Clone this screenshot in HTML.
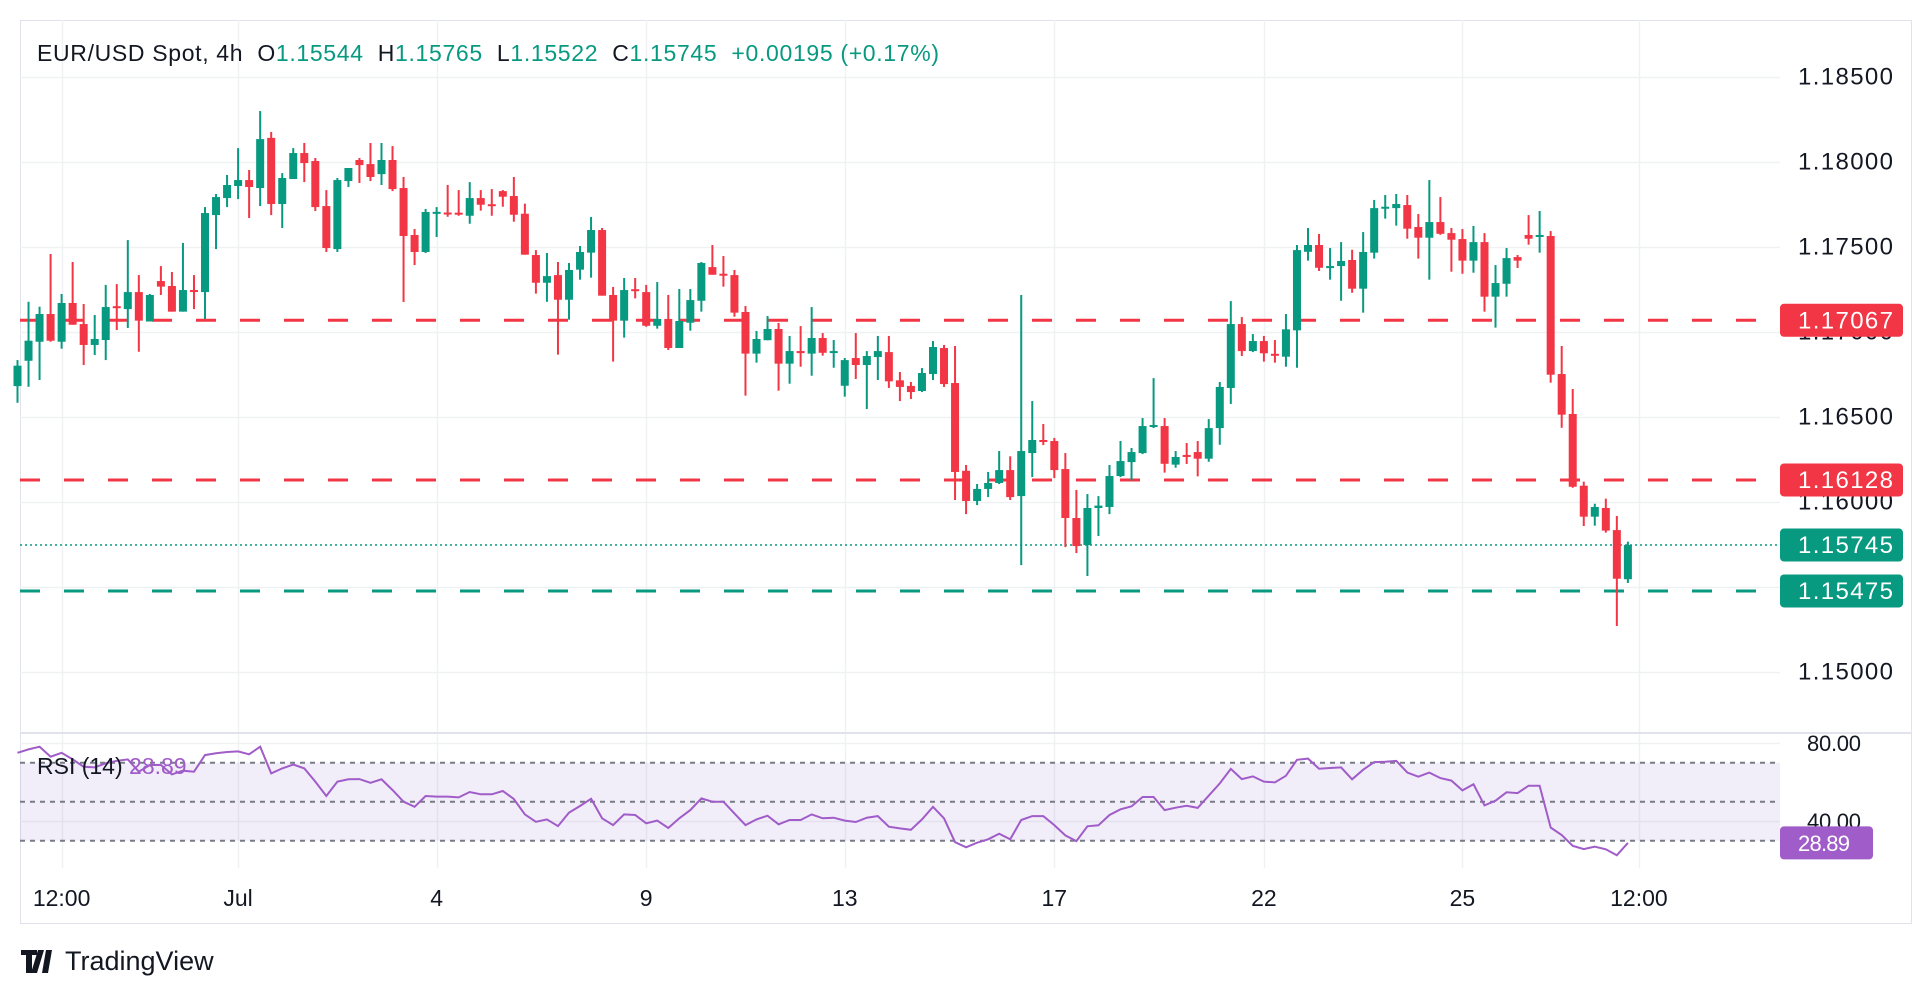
<!DOCTYPE html>
<html><head><meta charset="utf-8"><style>
html,body{margin:0;padding:0;background:#fff;}
svg{display:block;font-family:"Liberation Sans",Arial,sans-serif;}
</style></head><body>
<svg id="chart" width="1932" height="994" viewBox="0 0 1932 994" xmlns="http://www.w3.org/2000/svg">
<rect x="0" y="0" width="1932" height="994" fill="#ffffff"/>
<rect x="20.5" y="20.5" width="1891" height="903" fill="none" stroke="#e0e3eb" stroke-width="1"/>
<g id="grid"></g>
<rect id="rsiband" x="20" y="0" width="1760" height="0" fill="#7e57c2" fill-opacity="0.1"/>
<g id="rsiguides"></g>
<line x1="20" x2="1912" y1="733" y2="733" stroke="#e0e3eb" stroke-width="2"/>
<g id="levels"></g>
<g id="candles"></g>
<polyline id="rsiline" fill="none" stroke="#a05cc8" stroke-width="2" points=""/>
<g id="axis" font-size="24" fill="#131722"></g>
<g id="timeaxis" font-size="23" fill="#131722"></g>
<text x="37" y="61" font-size="23" fill="#131722" xml:space="preserve" textLength="902" lengthAdjust="spacing">EUR/USD Spot, 4h  O<tspan fill="#089981">1.15544</tspan>  H<tspan fill="#089981">1.15765</tspan>  L<tspan fill="#089981">1.15522</tspan>  C<tspan fill="#089981">1.15745  +0.00195 (+0.17%)</tspan></text>
<text x="37" y="774" font-size="23" fill="#131722" xml:space="preserve">RSI (14) <tspan fill="#a05cc8">28.89</tspan></text>
<g>
<path d="M21 950h16v5h-5v18h-6v-18h-5z M38 950h6l-7 23h-6z M46 950h6l-4 23h-6z" fill="#131722"/>
<text x="65" y="970" font-size="27" fill="#131722">TradingView</text>
</g>
</svg>
<script>
const opens=[1.1668,1.16829,1.16941,1.17104,1.16941,1.17169,1.17045,1.16922,1.16951,1.1715,1.17133,1.17233,1.1706,1.17298,1.17269,1.17118,1.17245,1.17233,1.17686,1.17786,1.17857,1.17892,1.17845,1.1814,1.17751,1.17898,1.18051,1.18004,1.17739,1.17486,1.17886,1.1801,1.17986,1.17927,1.1801,1.17845,1.17569,1.17469,1.177,1.17701,1.177,1.17682,1.17786,1.1775,1.17827,1.17798,1.17694,1.17451,1.17288,1.17333,1.17188,1.17365,1.17465,1.17598,1.17216,1.17065,1.1725,1.17233,1.17035,1.17075,1.16904,1.17053,1.17182,1.1738,1.17341,1.17333,1.17116,1.16871,1.1695,1.17016,1.16812,1.16886,1.16871,1.16963,1.16875,1.16682,1.16845,1.16804,1.16851,1.1688,1.16714,1.16681,1.16651,1.16751,1.16904,1.16698,1.16182,1.16004,1.16075,1.1611,1.16186,1.16033,1.16286,1.16363,1.16357,1.16192,1.15904,1.15745,1.15963,1.15969,1.16151,1.16233,1.16286,1.16445,1.16445,1.16218,1.16275,1.16292,1.16253,1.16433,1.16669,1.17045,1.16886,1.16945,1.1687,1.16853,1.17008,1.1747,1.1751,1.1738,1.17386,1.17422,1.17253,1.17465,1.1773,1.17727,1.17745,1.17616,1.17553,1.17645,1.1758,1.17545,1.17418,1.17527,1.17206,1.17282,1.17439,1.17569,1.17561,1.17563,1.16751,1.16516,1.16094,1.15912,1.15963,1.15833,1.15544];
const highs=[1.16833,1.17176,1.17147,1.17457,1.17222,1.1741,1.17163,1.17098,1.17275,1.1728,1.17539,1.17333,1.17222,1.17386,1.17351,1.17522,1.17333,1.17733,1.1781,1.17922,1.1808,1.17951,1.18298,1.18175,1.17933,1.1808,1.1811,1.18022,1.17833,1.17904,1.17963,1.18022,1.1811,1.1811,1.18092,1.1791,1.17604,1.17722,1.17733,1.17863,1.17833,1.1788,1.17833,1.17839,1.17833,1.1791,1.17753,1.1748,1.17463,1.1741,1.17404,1.17504,1.17675,1.1761,1.17263,1.17316,1.17316,1.17275,1.17292,1.17216,1.17251,1.17251,1.1741,1.1751,1.17445,1.17363,1.17151,1.17004,1.17092,1.17051,1.16975,1.17033,1.17145,1.16992,1.16951,1.16845,1.16992,1.16886,1.16975,1.16975,1.16763,1.16704,1.16786,1.16945,1.16922,1.16916,1.16216,1.16104,1.16175,1.16298,1.16267,1.17216,1.16592,1.16457,1.16375,1.16286,1.16069,1.16045,1.16033,1.16216,1.16357,1.16316,1.16492,1.16727,1.16492,1.16298,1.16345,1.16357,1.16486,1.16704,1.1718,1.17086,1.16986,1.16975,1.16951,1.17104,1.1751,1.1761,1.17575,1.17492,1.17527,1.17482,1.17586,1.17775,1.17804,1.1781,1.17804,1.17692,1.17892,1.17792,1.1761,1.17604,1.17622,1.1758,1.17392,1.17492,1.17451,1.17686,1.1771,1.17592,1.16916,1.16663,1.16118,1.15988,1.16018,1.15916,1.15765];
const lows=[1.16582,1.16676,1.16716,1.16941,1.169,1.17041,1.16804,1.16863,1.16833,1.1701,1.17022,1.16882,1.1706,1.17216,1.17118,1.17118,1.17133,1.17075,1.17486,1.17733,1.1778,1.17669,1.17739,1.17686,1.1761,1.17898,1.1788,1.1771,1.17469,1.17469,1.17851,1.17875,1.17886,1.17863,1.17827,1.17175,1.17392,1.17463,1.17557,1.17676,1.17682,1.17635,1.17712,1.17682,1.17735,1.17647,1.17453,1.17224,1.17176,1.16865,1.17071,1.17306,1.17318,1.17212,1.16824,1.16965,1.17196,1.17029,1.17018,1.16892,1.16904,1.17006,1.17118,1.17335,1.17265,1.17088,1.16624,1.16818,1.1695,1.16653,1.16694,1.16794,1.16741,1.16859,1.16788,1.16618,1.16722,1.16545,1.16716,1.16669,1.16592,1.16604,1.16645,1.16716,1.16675,1.1601,1.15927,1.1598,1.16027,1.16104,1.1601,1.15627,1.16145,1.16333,1.16139,1.15733,1.15698,1.15563,1.15798,1.15927,1.16145,1.16125,1.1628,1.16433,1.16171,1.162,1.16222,1.16149,1.16235,1.16335,1.16575,1.16857,1.1688,1.16824,1.16818,1.16794,1.16788,1.17418,1.17357,1.17306,1.17182,1.17229,1.17112,1.1743,1.17665,1.17624,1.17547,1.1743,1.17306,1.1757,1.17353,1.17341,1.17347,1.17118,1.17024,1.17206,1.17375,1.17512,1.17465,1.167,1.16435,1.16082,1.15857,1.15859,1.15818,1.15269,1.15522];
const closes=[1.1680,1.16947,1.17104,1.16947,1.17169,1.17041,1.16922,1.16957,1.17145,1.1714,1.17233,1.17065,1.17216,1.17265,1.17118,1.17245,1.17238,1.17698,1.17792,1.17863,1.17892,1.17851,1.18133,1.17751,1.17904,1.18051,1.17992,1.17733,1.17492,1.17892,1.17963,1.1798,1.1791,1.1801,1.17839,1.17563,1.17469,1.17704,1.17705,1.17698,1.17698,1.17786,1.17747,1.17747,1.17794,1.17688,1.17453,1.17288,1.17327,1.17188,1.17363,1.17469,1.17598,1.17212,1.17065,1.17245,1.17241,1.17035,1.17075,1.16904,1.17063,1.17186,1.17404,1.17335,1.17335,1.17112,1.16871,1.16957,1.17016,1.16812,1.16886,1.16878,1.16963,1.16876,1.16886,1.16833,1.16804,1.16857,1.16886,1.16708,1.16675,1.16645,1.16757,1.1691,1.16692,1.16175,1.16004,1.16075,1.1611,1.16186,1.16027,1.16298,1.16363,1.16357,1.16186,1.15904,1.15739,1.15963,1.15977,1.16151,1.16239,1.16292,1.16445,1.16451,1.16223,1.16263,1.16265,1.16253,1.16433,1.16675,1.17045,1.16886,1.16945,1.16873,1.16865,1.17014,1.1748,1.1751,1.17376,1.17386,1.17416,1.17253,1.17469,1.17727,1.17735,1.17751,1.17606,1.17553,1.17645,1.17576,1.17541,1.17418,1.17527,1.17206,1.17286,1.17433,1.17418,1.17547,1.17569,1.16747,1.16512,1.16088,1.15912,1.15969,1.1583,1.15547,1.15745];
const rsiValues=[75.1,76.8,78.2,73.1,75.1,71.7,67.9,67.6,69.7,71,71.7,65.4,68.8,68.8,64.0,65.9,65.4,73.9,74.8,75.5,75.8,74.3,78.2,64.5,67.1,69.1,67.1,60.3,52.9,60.3,61.5,61.6,59.7,61.5,56.0,50.0,47.4,52.9,52.6,52.6,52.2,55.0,53.8,53.8,55.5,51.4,43.5,39.7,40.9,37.5,44.4,47.8,51.5,41.5,38.0,43.5,43.2,38.9,40.3,36.5,41.5,45.7,51.7,50.0,50.0,44.0,38.0,40.9,42.8,38.4,40.6,40.6,43.5,41.5,41.8,40.3,39.6,41.8,42.6,37.2,36.3,35.6,40.9,47.4,41.5,29.3,26.6,29.0,30.7,33.6,30.7,40.6,42.6,42.6,38.0,32.7,29.8,37.4,37.9,43.2,46.1,47.6,52.4,52.4,45.7,46.9,47.9,46.8,53.1,59.4,66.8,61.6,63.0,60.3,59.9,63.3,71.5,72.1,66.9,67.3,67.6,61.5,66.4,70.3,70.5,70.9,65.0,62.8,64.9,62.1,60.8,55.8,58.9,48.1,50.5,54.8,54.4,58.2,58.2,36.7,32.9,27.4,25.7,26.9,25.6,22.5,28.89];
const priceTicks=["1.18500","1.18000","1.17500","1.17000","1.16500","1.16000","1.15500","1.15000"];
const rsiTicks=["80.00","40.00"];
const timeLabels=["12:00","Jul","4","9","13","17","22","25","12:00"];
const timeIndex=[4,20,38,57,75,94,113,131,147];
const resistanceLevels=[1.17067,1.16128];
const supportLevels=[1.15475];
const lastPrice=1.15745;
const lastRsi=28.89;

const NS="http://www.w3.org/2000/svg";
const yP=p=>161.7+(1.18-p)*17000;
const yR=r=>762.7+(70-r)*1.95;
const xI=i=>17.5+11.03*i;
function mk(tag,attrs,parent){const e=document.createElementNS(NS,tag);for(const k in attrs)e.setAttribute(k,attrs[k]);parent.appendChild(e);return e;}
const grid=document.getElementById('grid');
priceTicks.forEach(t=>{const y=Math.round(yP(parseFloat(t)))+0.5;const l=mk('line',{x1:20,x2:1780,y1:y,y2:y,stroke:'#f0f1f3','stroke-width':1.5},grid);

});
rsiTicks.forEach(t=>{const y=Math.round(yR(parseFloat(t)))+0.5;const l=mk('line',{x1:20,x2:1780,y1:y,y2:y,stroke:'#f0f1f3','stroke-width':1.5},grid);

});
timeIndex.forEach(i=>{const x=Math.round(xI(i))+0.5;const l=mk('line',{x1:x,x2:x,y1:20,y2:868,stroke:'#f0f1f3','stroke-width':1.5},grid);

});
const band=document.getElementById('rsiband');band.setAttribute('y',yR(70));band.setAttribute('height',yR(30)-yR(70));
const rg=document.getElementById('rsiguides');
[70,50,30].forEach(v=>{const l=mk('line',{x1:20,x2:1780,y1:yR(v),y2:yR(v),stroke:'#787b86','stroke-width':2,'stroke-dasharray':'5 5'},rg);

});
const lv=document.getElementById('levels');
resistanceLevels.forEach(p=>{const l=mk('line',{x1:20,x2:1780,y1:yP(p),y2:yP(p),stroke:'#f23645','stroke-width':3,'stroke-dasharray':'20 24'},lv);

});
supportLevels.forEach(p=>{const l=mk('line',{x1:20,x2:1780,y1:yP(p),y2:yP(p),stroke:'#089981','stroke-width':3,'stroke-dasharray':'20 24'},lv);

});
const ll=mk('line',{x1:20,x2:1780,y1:yP(lastPrice),y2:yP(lastPrice),stroke:'#089981','stroke-width':1.5,'stroke-dasharray':'2 3'},lv);


const cg=document.getElementById('candles');
for(let i=0;i<opens.length;i++){const up=closes[i]>=opens[i];const col=up?'#089981':'#f23645';const x=xI(i);
const w=mk('rect',{x:x-1,y:yP(highs[i]),width:2,height:Math.max(1,yP(lows[i])-yP(highs[i])),fill:col},cg);


const top=yP(Math.max(opens[i],closes[i]));const bot=yP(Math.min(opens[i],closes[i]));
const b=mk('rect',{x:x-4,y:top,width:8,height:Math.max(2,bot-top),fill:col},cg);

}
document.getElementById('rsiline').setAttribute('points',rsiValues.map((v,i)=>xI(i).toFixed(1)+','+yR(v).toFixed(1)).join(' '));
const ax=document.getElementById('axis');
priceTicks.forEach(t=>{const e=mk('text',{x:1798,y:yP(parseFloat(t))+8,textLength:95,lengthAdjust:'spacing'},ax);e.textContent=t;

});
rsiTicks.forEach(t=>{const e=mk('text',{x:1807,y:yR(parseFloat(t))+8,'font-size':22,textLength:54,lengthAdjust:'spacing'},ax);e.textContent=t;

});
function tag(p,y,col,name,w,tl,fs){const r=mk('rect',{x:1780,y:y-16.5,width:w,height:33,rx:4,fill:col},ax);


const t=mk('text',{x:1798,y:y+8,fill:'#ffffff','font-size':fs,textLength:tl,lengthAdjust:'spacing'},ax);t.textContent=p;

}
resistanceLevels.forEach(p=>tag(p.toFixed(5),yP(p),'#f23645','resistance-price',123,95,24));
supportLevels.forEach(p=>tag(p.toFixed(5),yP(p),'#089981','support-price',123,95,24));
tag(lastPrice.toFixed(5),yP(lastPrice),'#089981','last-price',123,95,24);
tag(lastRsi.toFixed(2),yR(lastRsi),'#a05cc8','rsi-value',93,52,22);
const ta=document.getElementById('timeaxis');
timeLabels.forEach((t,k)=>{const e=mk('text',{x:xI(timeIndex[k]),y:906,'text-anchor':'middle'},ta);e.textContent=t;

});
</script>
</body></html>
